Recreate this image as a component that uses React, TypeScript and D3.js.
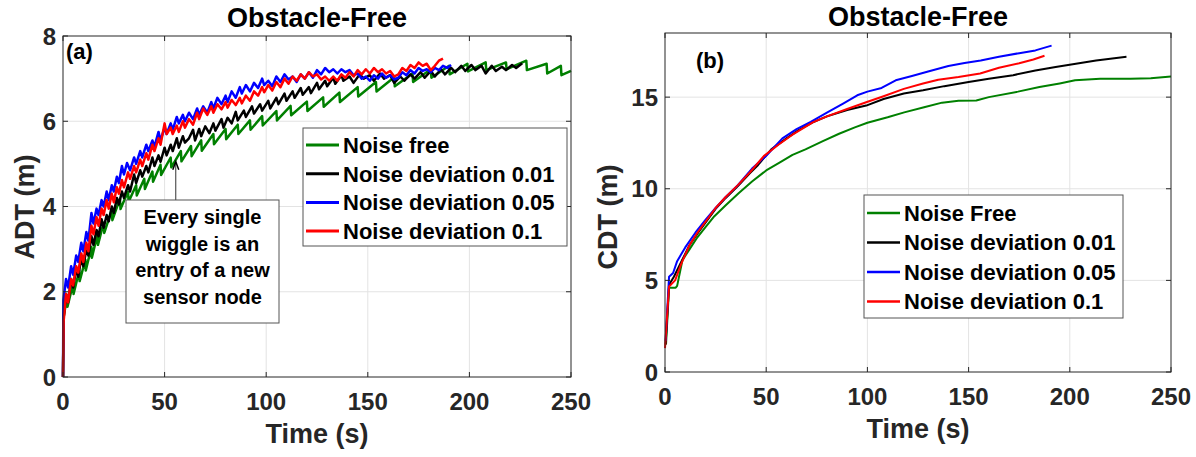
import * as d3 from "d3"

type Pt = [number, number]

// ---- shared categories / ticks ----
const timeTicks = [0, 50, 100, 150, 200, 250]
const adtTicks = [0, 2, 4, 6, 8]
const cdtTicks = [0, 5, 10, 15]
const seriesColors = ["#008000", "#000000", "#0000ff", "#ff0000"]
const legendA = ["Noise free", "Noise deviation 0.01", "Noise deviation 0.05", "Noise deviation 0.1"]
const legendB = ["Noise Free", "Noise deviation 0.01", "Noise deviation 0.05", "Noise deviation 0.1"]
const noteLines = ["Every single", "wiggle is an", "entry of a new", "sensor node"]

// ---- (a) average distance travelled, [time s, ADT m] ----
const adtNoiseFree: Pt[] = [
  [0, 0], [0.3, 1.4], [2, 1.9], [2.2, 1.65], [5, 2.2], [5.2, 1.95], [8, 2.5], [8.2, 2.25],
  [11, 2.75], [11.2, 2.5], [14, 3.05], [14.2, 2.8], [17, 3.35], [17.2, 3.1], [20, 3.62], [20.3, 3.38],
  [24, 3.92], [24.3, 3.68], [28, 4.18], [28.3, 3.94], [32, 4.35], [32.3, 4.11], [36, 4.5], [36.3, 4.26],
  [40, 4.65], [40.3, 4.41], [44, 4.82], [44.3, 4.58], [48, 4.98], [48.3, 4.74], [53, 5.15], [53.3, 4.92],
  [58, 5.3], [58.3, 5.06], [63, 5.42], [63.3, 5.18], [68, 5.55], [68.3, 5.31], [74, 5.7], [74.3, 5.46],
  [80, 5.82], [80.3, 5.58], [86, 5.92], [86.3, 5.7], [92, 6.02], [92.3, 5.8], [98, 6.12], [98.3, 5.9],
  [105, 6.24], [105.3, 6.02], [112, 6.36], [112.3, 6.14], [120, 6.46], [120.3, 6.24], [128, 6.56], [128.3, 6.34],
  [136, 6.67], [136.3, 6.45], [145, 6.8], [145.3, 6.58], [154, 6.92], [154.3, 6.7], [163, 7.03], [163.3, 6.82],
  [172, 7.12], [172.3, 6.92], [181, 7.22], [181.3, 7.02], [190, 7.3], [190.3, 7.1], [199, 7.35], [199.3, 7.17],
  [208, 7.38], [208.3, 7.2], [218, 7.38], [218.3, 7.22], [228, 7.42], [228.3, 7.2], [238, 7.35], [238.3, 7.12],
  [245, 7.3], [245.3, 7.08], [250, 7.18],
]
const adtDev001: Pt[] = [
  [0, 0], [0.3, 1.4], [1.5, 1.95], [2.5, 1.75], [4, 2.3], [5, 2.1], [6.5, 2.55], [7.5, 2.35], [9, 2.8], [10, 2.6],
  [11.5, 3.0], [12.5, 2.85], [14, 3.3], [15, 3.1], [16.5, 3.45], [17.5, 3.3], [19, 3.7], [20, 3.5], [21.5, 3.8],
  [22.5, 3.65], [24, 4.0], [25, 3.85], [26.5, 4.2], [27.5, 4.05], [29, 4.35], [30, 4.2], [32, 4.5], [33, 4.35],
  [35, 4.75], [36, 4.55], [38, 4.85], [39, 4.7], [41, 4.95], [42, 4.8], [44, 5.15], [45, 4.95], [47, 5.2], [48, 5.05],
  [50, 5.38], [51, 5.2], [53, 5.45], [54, 5.3], [56, 5.6], [57, 5.38], [59, 5.65], [60, 5.5], [62, 5.6], [64, 5.8],
  [65, 5.55], [67, 5.82], [68, 5.65], [70, 5.88], [72, 5.72], [74, 5.95], [75, 5.78], [78, 6.05], [79, 5.85],
  [81, 6.08], [83, 5.95], [85, 6.22], [86, 6.02], [89, 6.25], [90, 6.1], [93, 6.35], [94, 6.18], [97, 6.4], [98, 6.25],
  [101, 6.48], [102, 6.3], [105, 6.55], [106, 6.4], [109, 6.65], [110, 6.48], [113, 6.7], [114, 6.55], [117, 6.78],
  [118, 6.62], [121, 6.8], [122, 6.66], [125, 6.9], [126, 6.75], [129, 6.95], [130, 6.82], [133, 7.02], [134, 6.88],
  [137, 7.08], [138, 6.95], [141, 7.05], [143, 6.9], [146, 7.1], [148, 7.0], [151, 7.08], [153, 6.95], [156, 7.12],
  [158, 7.0], [161, 7.08], [163, 6.9], [166, 7.05], [168, 6.95], [171, 7.1], [173, 7.0], [176, 7.15], [178, 7.02],
  [181, 7.18], [183, 7.05], [186, 7.22], [188, 7.1], [191, 7.25], [193, 7.15], [196, 7.3], [198, 7.18], [201, 7.32],
  [203, 7.2], [206, 7.3], [208, 7.12], [211, 7.3], [213, 7.18], [216, 7.28], [218, 7.2], [221, 7.32], [223, 7.25],
  [226, 7.36],
]
const adtDev005: Pt[] = [
  [0, 0], [0.2, 1.8], [1.5, 2.3], [2.5, 2.1], [4, 2.6], [5, 2.4], [6.5, 2.85], [7.5, 2.7], [9, 3.15], [10, 2.95],
  [11.5, 3.4], [12.5, 3.2], [14, 3.85], [15, 3.6], [16.5, 3.95], [17.5, 3.8], [19, 4.15], [20, 4.0], [21.5, 4.35],
  [22.5, 4.15], [24, 4.5], [25, 4.35], [26.5, 4.7], [27.5, 4.55], [29, 4.95], [30, 4.75], [31.5, 5.02], [33, 4.85],
  [35, 5.15], [36, 5.0], [38, 5.3], [39, 5.15], [41, 5.45], [42, 5.3], [44, 5.55], [45, 5.4], [47, 5.75], [48, 5.55],
  [50, 5.85], [51, 5.7], [53, 5.95], [54, 5.8], [56, 6.1], [57, 5.95], [59, 6.15], [60, 6.0], [62, 6.2], [64, 6.05],
  [66, 6.3], [67, 6.15], [69, 6.35], [71, 6.2], [73, 6.45], [74, 6.3], [76, 6.55], [78, 6.4], [80, 6.6], [81, 6.45],
  [83, 6.7], [85, 6.55], [87, 6.8], [88, 6.65], [90, 6.85], [92, 6.7], [94, 6.9], [96, 6.78], [98, 7.0], [99, 6.85],
  [101, 6.95], [103, 6.82], [105, 7.05], [107, 6.92], [109, 7.1], [111, 6.98], [113, 7.05], [115, 6.92], [117, 7.1],
  [119, 7.0], [121, 7.15], [123, 7.02], [125, 7.2], [127, 7.1], [129, 7.25], [131, 7.15], [133, 7.22], [135, 7.12],
  [137, 7.22], [139, 7.15], [141, 7.2], [143, 7.08], [145, 7.12], [147, 7.0], [149, 7.05], [151, 6.95], [153, 7.08],
  [155, 7.0], [157, 7.12], [159, 7.02], [161, 7.08], [163, 6.98], [165, 7.02], [167, 7.15], [169, 7.08], [171, 7.2],
  [173, 7.12], [175, 7.25], [177, 7.18], [179, 7.22], [181, 7.15], [183, 7.25], [185, 7.2], [187, 7.3], [189, 7.25],
  [191, 7.32],
]
const adtDev01: Pt[] = [
  [0, 0], [0.3, 1.3], [1.5, 1.95], [2.5, 1.75], [4, 2.3], [5, 2.15], [6.5, 2.6], [7.5, 2.45], [9, 2.9], [10, 2.7],
  [11.5, 3.15], [12.5, 2.95], [14, 3.55], [15, 3.35], [16.5, 3.75], [17.5, 3.55], [19, 3.95], [20, 3.8], [21.5, 4.15],
  [22.5, 3.95], [24, 4.3], [25, 4.1], [26.5, 4.45], [27.5, 4.3], [29, 4.62], [30, 4.45], [32, 4.8], [33, 4.65],
  [35, 4.95], [36, 4.8], [38, 5.1], [39, 4.95], [41, 5.25], [42, 5.1], [44, 5.45], [45, 5.3], [47, 5.6], [48, 5.45],
  [50, 5.95], [51, 5.7], [53, 5.85], [54, 5.7], [56, 5.9], [57, 5.75], [59, 6.0], [60, 5.85], [62, 6.05], [64, 5.92],
  [66, 6.2], [67, 6.05], [69, 6.3], [71, 6.15], [73, 6.35], [74, 6.2], [76, 6.4], [78, 6.28], [80, 6.45], [81, 6.32],
  [83, 6.5], [85, 6.38], [87, 6.55], [88, 6.42], [90, 6.6], [92, 6.48], [94, 6.7], [96, 6.6], [98, 6.8], [99, 6.68],
  [101, 6.85], [103, 6.72], [105, 6.92], [107, 6.8], [109, 7.0], [111, 6.88], [113, 7.05], [115, 6.95], [117, 7.1],
  [119, 7.0], [121, 7.15], [123, 7.05], [125, 7.1], [127, 6.98], [129, 7.05], [131, 6.95], [133, 7.05], [135, 6.95],
  [137, 7.1], [139, 7.02], [141, 7.15], [143, 7.05], [145, 7.2], [147, 7.1], [149, 7.22], [151, 7.12], [153, 7.25],
  [155, 7.15], [157, 7.22], [159, 7.12], [161, 7.18], [163, 7.05], [165, 7.1], [167, 7.25], [169, 7.18], [171, 7.32],
  [173, 7.25], [175, 7.38], [177, 7.3], [179, 7.35], [181, 7.2], [183, 7.3], [185, 7.42], [187, 7.47],
]

// ---- (b) cumulative distance travelled, [time s, CDT m] ----
const cdtNoiseFree: Pt[] = [
  [0.5, 1.5], [2, 4.6], [5.3, 4.6], [6, 4.7], [8.6, 6.1], [12, 6.68], [16, 7.35], [20, 7.9], [24.4, 8.5], [30, 9.1],
  [36.5, 9.77], [43, 10.4], [50, 11.0], [57, 11.45], [63, 11.85], [69.4, 12.15], [78, 12.6], [86, 13.0], [93.8, 13.35],
  [100, 13.6], [110, 13.9], [118.2, 14.17], [128, 14.45], [136.9, 14.7], [145, 14.8], [153.8, 14.82], [160, 15.0],
  [174.4, 15.3], [185, 15.55], [195, 15.75], [202.6, 15.92], [215, 16.0], [230, 16.0], [240, 16.03], [250, 16.12],
]
const cdtDev001: Pt[] = [
  [0.3, 1.5], [2, 4.76], [4.4, 5.2], [8, 6.0], [12, 6.9], [16, 7.55], [20, 8.15], [25, 8.9], [30, 9.5], [36, 10.15],
  [42, 10.85], [46, 11.3], [52.5, 12.15], [60, 12.75], [66, 13.2], [73, 13.62], [80, 13.95], [90, 14.3], [99.4, 14.54],
  [108, 14.9], [118, 15.2], [127.5, 15.37], [138, 15.6], [150, 15.83], [160, 16.0], [172, 16.2], [183, 16.45],
  [193, 16.65], [203, 16.82], [213, 17.0], [220, 17.1], [228, 17.2],
]
const cdtDev005: Pt[] = [
  [0.3, 1.7], [2, 5.2], [4, 5.4], [6, 6.05], [10, 6.8], [15, 7.6], [20, 8.3], [25, 8.95], [30, 9.55], [36, 10.2],
  [43, 11.1], [50, 11.8], [58, 12.75], [65, 13.25], [72, 13.65], [80, 14.15], [88, 14.65], [95, 15.1], [100, 15.3],
  [107, 15.5], [114, 15.92], [122, 16.15], [130, 16.4], [140, 16.7], [148, 16.86], [156, 17.0], [165, 17.2],
  [175, 17.4], [183, 17.55], [191, 17.81],
]
const cdtDev01: Pt[] = [
  [0, 1.3], [2, 4.67], [5, 5.0], [8, 5.9], [12, 6.9], [16, 7.6], [20, 8.2], [25, 8.95], [30, 9.55], [36, 10.2],
  [42, 10.9], [48.8, 11.78], [56, 12.4], [63, 12.95], [73, 13.62], [80, 13.95], [90, 14.35], [99.4, 14.72],
  [108, 15.05], [118, 15.45], [127.5, 15.74], [135, 15.95], [145, 16.1], [155.7, 16.29], [165, 16.6], [175, 16.85],
  [182, 17.05], [187.5, 17.26],
]

const FONT = "'Liberation Sans', Arial, Helvetica, sans-serif"
const AXIS = "#262626"

interface PanelProps {
  frame: { x0: number; x1: number; y0: number; y1: number }
  yMax: number
  yTicks: number[]
  series: Pt[][]
  title: string
  titleY: number
  ylabel: string
  ylabelX: number
  ylabelY: number
  tag: string
  tagPos: [number, number]
  legend: string[]
  legendBox: { x: number; y: number; w: number; h: number; row0: number; step: number }
  lineWidth: number
  children?: React.ReactNode
}

function Panel(p: PanelProps) {
  const { x0, x1, y0, y1 } = p.frame
  const x = d3.scaleLinear().domain([0, 250]).range([x0, x1])
  const y = d3.scaleLinear().domain([0, p.yMax]).range([y1, y0])
  const line = d3
    .line<Pt>()
    .x((d) => x(d[0]))
    .y((d) => y(d[1]))
  const cx = (x0 + x1) / 2
  const lb = p.legendBox

  return (
    <g fontFamily={FONT} fontWeight="bold">
      {/* grid */}
      {timeTicks.slice(1, -1).map((t) => (
        <line key={"gx" + t} x1={x(t)} x2={x(t)} y1={y0} y2={y1} stroke="#e3e3e3" strokeWidth={1} />
      ))}
      {p.yTicks.filter((v) => v > 0 && v < p.yMax).map((v) => (
        <line key={"gy" + v} x1={x0} x2={x1} y1={y(v)} y2={y(v)} stroke="#e3e3e3" strokeWidth={1} />
      ))}

      {/* curves */}
      <defs>
        <clipPath id={"clip" + p.tag}>
          <rect x={x0} y={y0 - 2} width={x1 - x0} height={y1 - y0 + 2} />
        </clipPath>
      </defs>
      <g clipPath={`url(#clip${p.tag})`}>
        {p.series.map((s, i) => (
          <path key={i} d={line(s) || ""} fill="none" stroke={seriesColors[i]} strokeWidth={p.lineWidth} strokeLinejoin="round" />
        ))}
      </g>

      {/* box + ticks */}
      <rect x={x0} y={y0} width={x1 - x0} height={y1 - y0} fill="none" stroke={AXIS} strokeWidth={1} />
      {timeTicks.map((t) => (
        <g key={"tx" + t}>
          <line x1={x(t)} x2={x(t)} y1={y1} y2={y1 - 5} stroke={AXIS} />
          <line x1={x(t)} x2={x(t)} y1={y0} y2={y0 + 5} stroke={AXIS} />
          <text x={x(t)} y={y1 + 33} textAnchor="middle" fontSize={24} fill={AXIS}>
            {t}
          </text>
        </g>
      ))}
      {p.yTicks.map((v) => (
        <g key={"ty" + v}>
          <line x1={x0} x2={x0 + 5} y1={y(v)} y2={y(v)} stroke={AXIS} />
          <line x1={x1} x2={x1 - 5} y1={y(v)} y2={y(v)} stroke={AXIS} />
          <text x={x0 - 7} y={y(v)} dy="0.36em" textAnchor="end" fontSize={24} fill={AXIS}>
            {v}
          </text>
        </g>
      ))}

      {/* labels */}
      <text x={cx} y={p.titleY} textAnchor="middle" fontSize={27} fill="#000">
        {p.title}
      </text>
      <text x={cx} y={y1 + 66} textAnchor="middle" fontSize={27} fill={AXIS}>
        Time (s)
      </text>
      <text
        transform={`translate(${p.ylabelX},${p.ylabelY}) rotate(-90)`}
        textAnchor="middle"
        fontSize={27}
        fill={AXIS}
      >
        {p.ylabel}
      </text>
      <text x={p.tagPos[0]} y={p.tagPos[1]} fontSize={22} fill="#000">
        {p.tag}
      </text>

      {/* legend */}
      <rect x={lb.x} y={lb.y} width={lb.w} height={lb.h} fill="#fff" stroke="#555" strokeWidth={1} />
      {p.legend.map((name, i) => {
        const ry = lb.row0 + i * lb.step
        return (
          <g key={name}>
            <line x1={lb.x + 3} x2={lb.x + 36} y1={ry} y2={ry} stroke={seriesColors[i]} strokeWidth={p.lineWidth + 0.5} />
            <text x={lb.x + 40} y={ry} dy="0.36em" fontSize={22} fill="#000">
              {name}
            </text>
          </g>
        )
      })}
      {p.children}
    </g>
  )
}

export default function App() {
  // annotation arrow target: the noise-free curve near t = 55 s
  const ax = d3.scaleLinear().domain([0, 250]).range([63, 571])
  const ay = d3.scaleLinear().domain([0, 8]).range([377, 36])
  const arrowX = ax(55.5)
  const arrowTip = ay(5.05)
  return (
    <svg width={1196} height={457} style={{ position: "absolute", left: 0, top: 0, background: "#fff" }}>
      <rect width={1196} height={457} fill="#fff" />
      <Panel
        frame={{ x0: 63, x1: 571, y0: 36, y1: 377 }}
        yMax={8}
        yTicks={adtTicks}
        series={[adtNoiseFree, adtDev001, adtDev005, adtDev01]}
        title="Obstacle-Free"
        titleY={27}
        ylabel="ADT (m)"
        ylabelX={34}
        ylabelY={207}
        tag="(a)"
        tagPos={[66, 59]}
        legend={legendA}
        legendBox={{ x: 303, y: 128, w: 264, h: 118, row0: 145, step: 28.7 }}
        lineWidth={2.5}
      >
        <line x1={arrowX} x2={arrowX} y1={200} y2={arrowTip} stroke="#333" strokeWidth={1} />
        <path
          d={`M${arrowX - 3},${arrowTip + 8} L${arrowX},${arrowTip} L${arrowX + 3},${arrowTip + 8}`}
          fill="none"
          stroke="#000"
          strokeWidth={1.5}
        />
        <rect x={126} y={200} width={153} height={123} fill="#fff" stroke="#555" strokeWidth={1} />
        {noteLines.map((s, i) => (
          <text key={s} x={202.5} y={224 + i * 26.5} textAnchor="middle" fontSize={20} fill="#000">
            {s}
          </text>
        ))}
      </Panel>
      <Panel
        frame={{ x0: 665, x1: 1171, y0: 33, y1: 372 }}
        yMax={18.5}
        yTicks={cdtTicks}
        series={[cdtNoiseFree, cdtDev001, cdtDev005, cdtDev01]}
        title="Obstacle-Free"
        titleY={26}
        ylabel="CDT (m)"
        ylabelX={617}
        ylabelY={217}
        tag="(b)"
        tagPos={[696, 68]}
        legend={legendB}
        legendBox={{ x: 864, y: 195, w: 259, h: 123, row0: 213, step: 29.5 }}
        lineWidth={2}
      />
    </svg>
  )
}
